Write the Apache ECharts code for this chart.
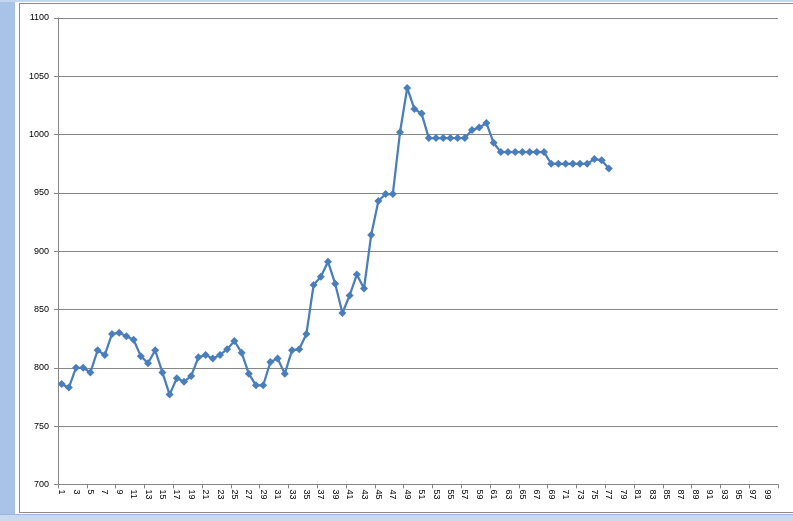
<!DOCTYPE html>
<html>
<head>
<meta charset="utf-8">
<script src="https://cdn.jsdelivr.net/npm/echarts@6/dist/echarts.min.js"></script>
<style>
  html, body { margin: 0; padding: 0; width: 793px; height: 521px; overflow: hidden; background: #ffffff; }
  #strip { position: absolute; left: 0; top: 0; width: 15px; height: 521px; background: #a9c3e8; }
  #topline { position: absolute; left: 0; top: 0; width: 793px; height: 2px; background: #c4d5ee; }
  #frame { position: absolute; left: 19px; top: 3px; width: 780px; height: 510px; border: 1px solid #8a8a8a; box-sizing: border-box; }
  #tabs { position: absolute; left: 0; top: 514px; width: 793px; height: 7px; background: #c9d9f0; border-top: 1px solid #9db5d8; }
  #chart { position: absolute; left: 0; top: 0; width: 793px; height: 521px; }
</style>
</head>
<body>
<div id="strip"></div>
<div id="topline"></div>
<div id="frame"></div>
<div id="tabs"></div>
<div id="chart"></div>
<script>
// categories 1..100
var categories = [];
for (var i = 1; i <= 100; i++) categories.push(String(i));

var values = [
  786, 783, 800, 800, 796, 815, 811, 829, 830, 827,
  824, 810, 804, 815, 796, 777, 791, 788, 793, 809,
  811, 808, 811, 816, 823, 813, 795, 785, 785, 805,
  808, 795, 815, 816, 829, 871, 878, 891, 872, 847,
  862, 880, 868, 914, 943, 949, 949, 1002, 1040, 1022,
  1018, 997, 997, 997, 997, 997, 997, 1004, 1006, 1010,
  993, 985, 985, 985, 985, 985, 985, 985, 975, 975,
  975, 975, 975, 975, 979, 978, 971
];

var yTicks = { min: 700, max: 1100, interval: 50 };

var chart = echarts.init(document.getElementById('chart'), null, { renderer: 'canvas' });
chart.setOption({
  backgroundColor: 'transparent',
  animation: false,
  grid: { left: 58, right: 15, top: 18, bottom: 36.6, containLabel: false },
  xAxis: {
    type: 'category',
    data: categories,
    boundaryGap: true,
    axisLine: { show: true, lineStyle: { color: '#868686', width: 1 } },
    axisTick: { show: true, interval: 3, length: 4, lineStyle: { color: '#868686' } },
    axisLabel: {
      interval: 1, rotate: -90, margin: 5,
      fontFamily: 'Liberation Sans', fontSize: 9, color: '#000'
    },
    splitLine: { show: false }
  },
  yAxis: {
    type: 'value',
    min: yTicks.min, max: yTicks.max, interval: yTicks.interval,
    axisLine: { show: true, lineStyle: { color: '#868686', width: 1 } },
    axisTick: { show: true, length: 4, lineStyle: { color: '#868686' } },
    axisLabel: {
      margin: 9, fontFamily: 'Liberation Sans', fontSize: 9, color: '#000',
      formatter: function (v) { return String(v); }
    },
    splitLine: { show: true, lineStyle: { color: '#868686', width: 1 } }
  },
  series: [{
    type: 'line',
    data: values,
    symbol: 'diamond',
    symbolSize: 8,
    showAllSymbol: true,
    lineStyle: { color: '#4a7ebb', width: 2.25 },
    itemStyle: { color: '#4a7ebb' }
  }]
});
</script>
</body>
</html>
